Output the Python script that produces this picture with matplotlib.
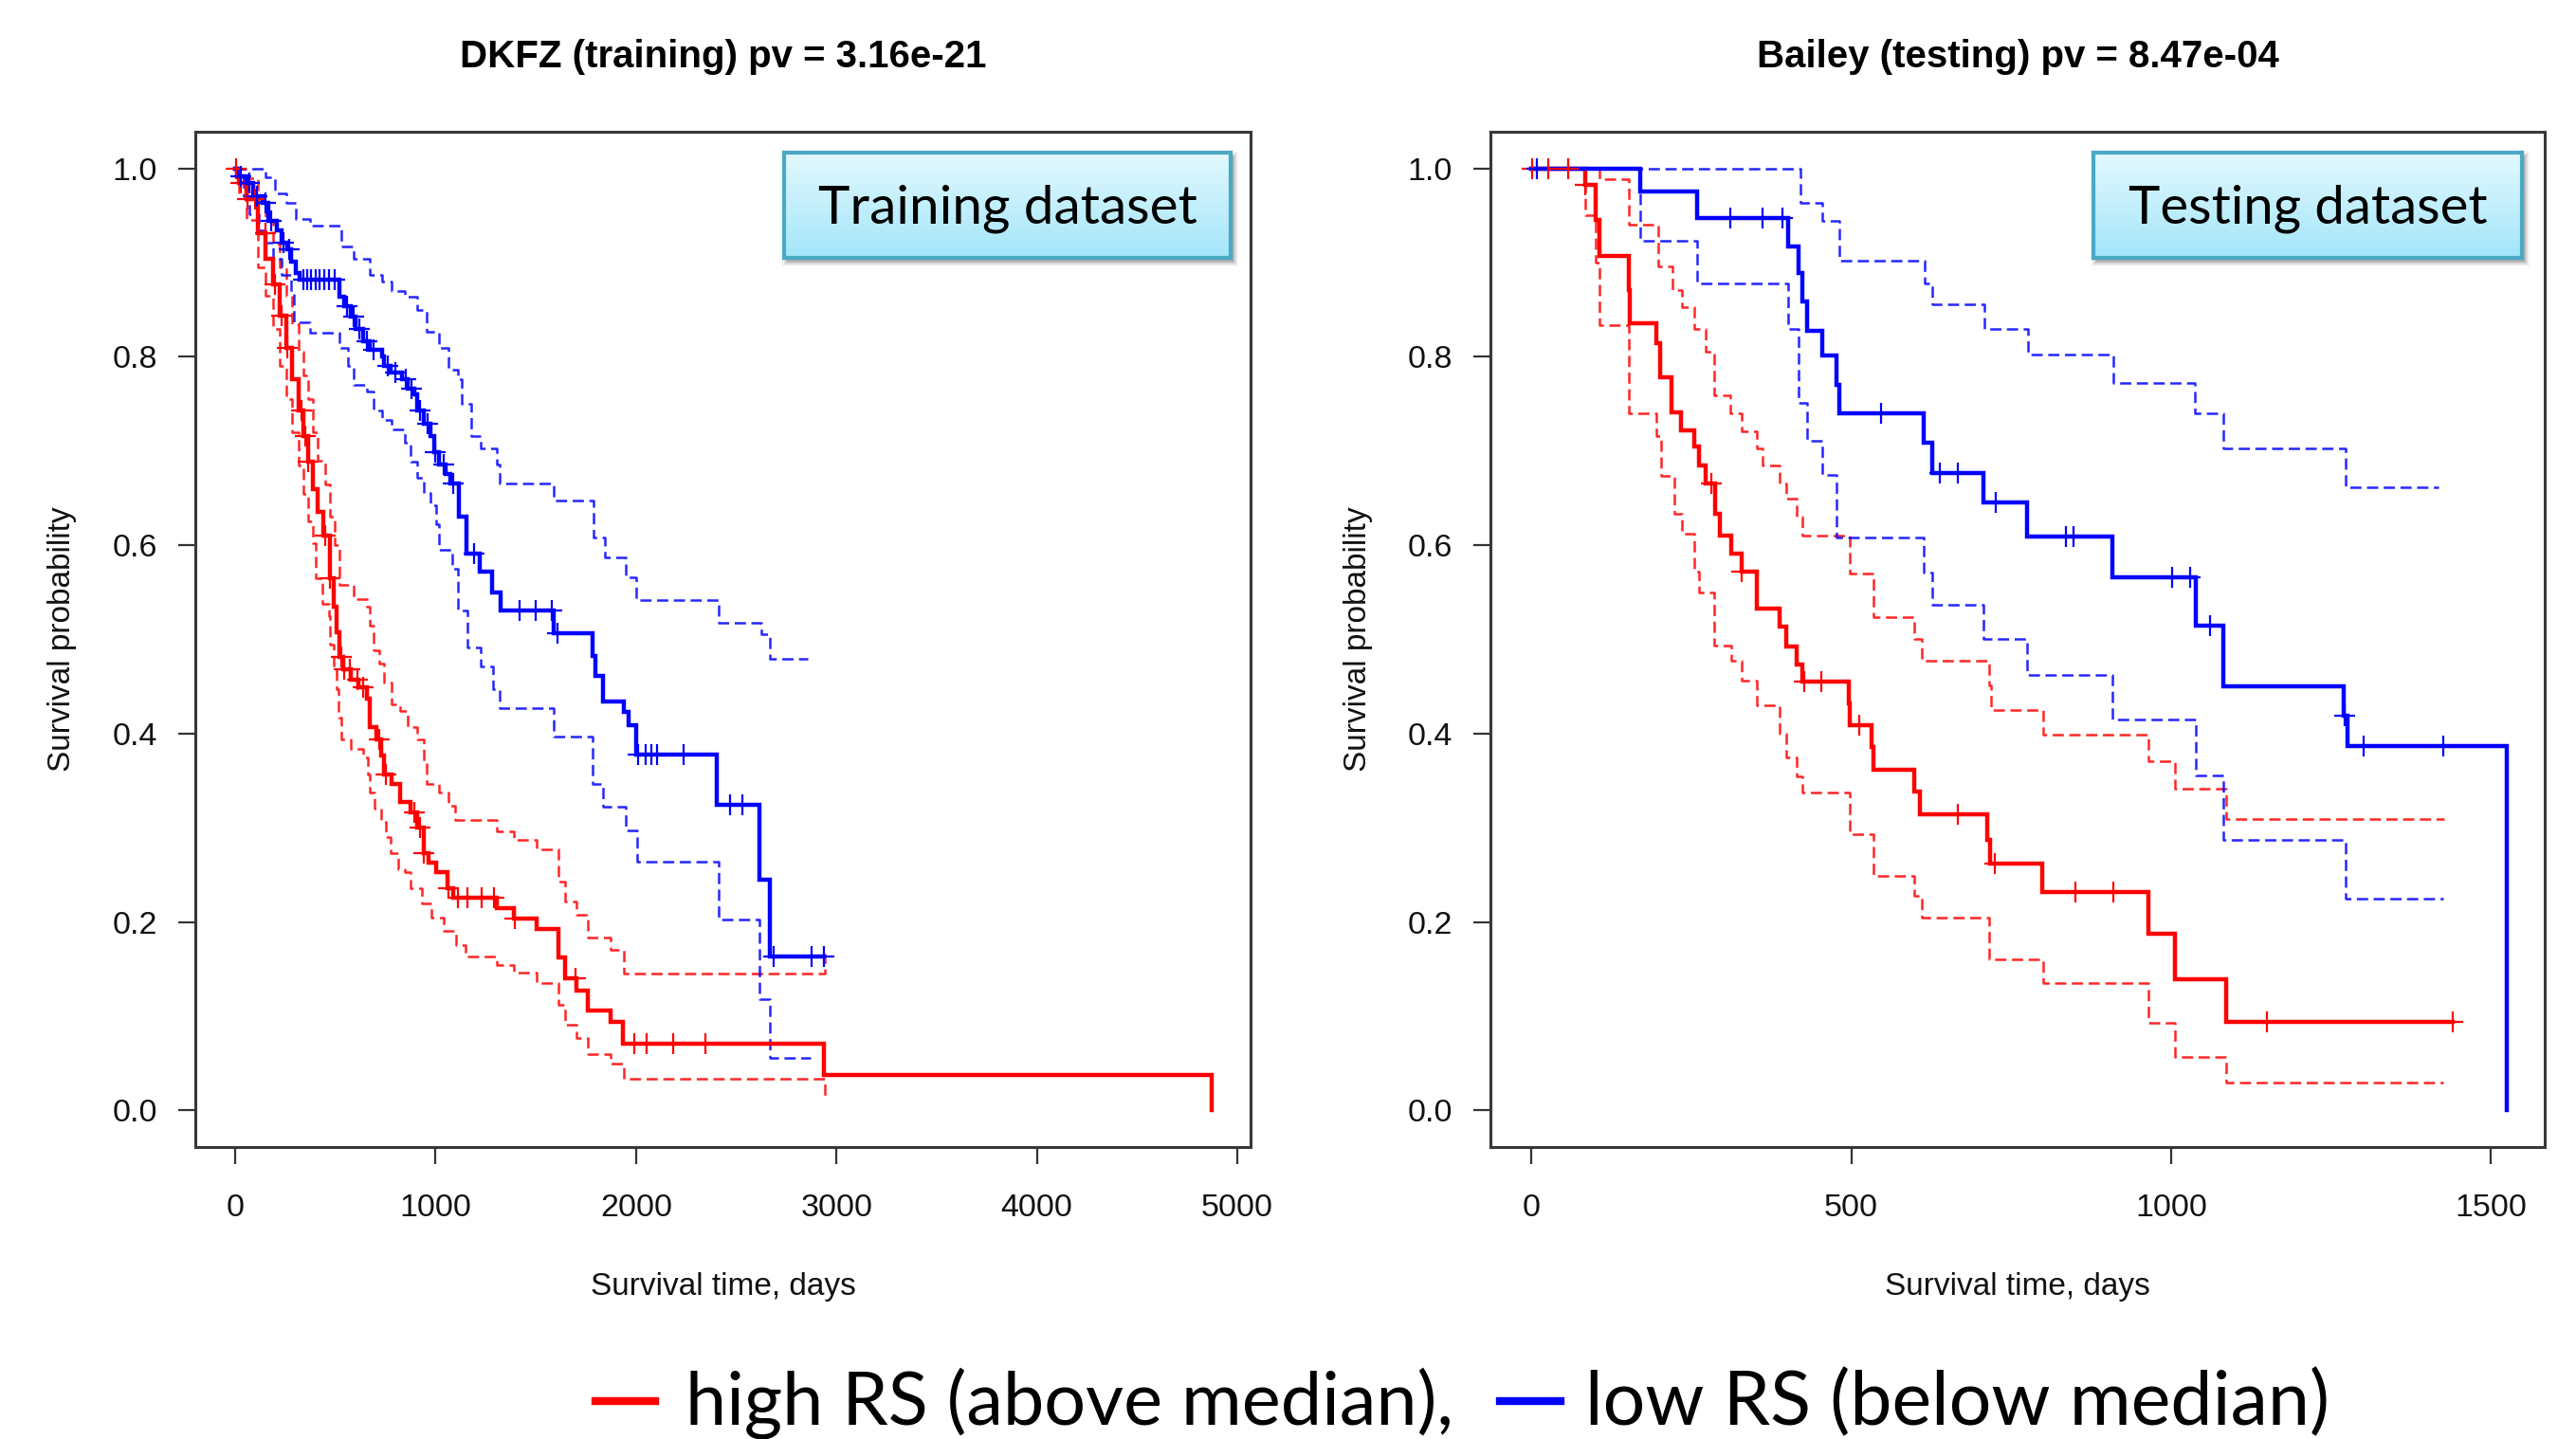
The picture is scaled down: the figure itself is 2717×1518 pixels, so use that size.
import matplotlib.pyplot as plt
import numpy as np
from matplotlib.lines import Line2D
from matplotlib.patches import Rectangle

plt.rcParams['font.family'] = ['Liberation Sans', 'DejaVu Sans']
plt.rcParams['lines.scale_dashes'] = False

# ---------------- DKFZ (training) ----------------
dk_title = "DKFZ (training) pv = 3.16e-21"
dk_xticks = [0, 1000, 2000, 3000, 4000, 5000]

dk_high_t = [0, 20, 57, 112, 152, 191, 222, 254, 285, 317, 341, 364, 388, 412, 440, 475, 491, 506, 522,
             538, 577, 617, 656, 672, 703, 727, 743, 782, 822, 877, 908, 940, 964, 1003, 1058, 1090,
             1307, 1392, 1505, 1615, 1648, 1705, 1761, 1871, 1936, 2935, 4871]
dk_high_s = [1.0, 0.985, 0.968, 0.931, 0.904, 0.877, 0.844, 0.810, 0.776, 0.743, 0.716, 0.689, 0.660,
             0.635, 0.610, 0.565, 0.535, 0.508, 0.481, 0.468, 0.457, 0.449, 0.437, 0.407, 0.394, 0.377,
             0.357, 0.347, 0.327, 0.316, 0.300, 0.273, 0.263, 0.253, 0.236, 0.226, 0.215, 0.204, 0.193,
             0.162, 0.140, 0.127, 0.106, 0.094, 0.071, 0.037, 0.0]
dk_high_end = 4871
dk_high_cens = [5, 30, 60, 100, 150, 200, 230, 260, 330, 349, 364, 451, 475, 530, 545, 570, 609, 640,
                719, 751, 893, 924, 940, 1066, 1113, 1161, 1230, 1290, 1397, 1700, 1992, 2051, 2187, 2346]

dk_high_up_t = [0, 57, 112, 152, 191, 222, 254, 285, 317, 341, 364, 388, 412, 451, 475, 498, 522, 593,
                656, 672, 688, 719, 743, 782, 822, 861, 908, 940, 956, 1019, 1066, 1098, 1307, 1392,
                1505, 1615, 1648, 1705, 1761, 1871, 1941, 2943]
dk_high_up_s = [1.0, 0.99, 0.965, 0.945, 0.92, 0.895, 0.865, 0.835, 0.805, 0.78, 0.755, 0.72, 0.69,
                0.665, 0.63, 0.60, 0.558, 0.543, 0.535, 0.515, 0.488, 0.474, 0.454, 0.431, 0.424, 0.407,
                0.394, 0.370, 0.347, 0.337, 0.323, 0.308, 0.296, 0.287, 0.277, 0.243, 0.222, 0.208,
                0.183, 0.170, 0.145, 0.166]
dk_high_up_end = 2943

dk_high_lo_t = [0, 20, 57, 112, 152, 191, 222, 254, 285, 317, 341, 364, 388, 404, 435, 467, 475, 491,
                506, 514, 530, 577, 640, 664, 672, 695, 727, 751, 774, 814, 846, 877, 930, 980, 1040,
                1100, 1150, 1307, 1392, 1505, 1615, 1648, 1705, 1761, 1871, 1941, 2943]
dk_high_lo_s = [1.0, 0.975, 0.945, 0.895, 0.865, 0.83, 0.79, 0.755, 0.72, 0.685, 0.655, 0.625, 0.602,
                0.565, 0.538, 0.525, 0.494, 0.468, 0.447, 0.417, 0.394, 0.384, 0.375, 0.357, 0.337,
                0.320, 0.306, 0.290, 0.273, 0.256, 0.253, 0.236, 0.220, 0.205, 0.19, 0.175, 0.163,
                0.154, 0.146, 0.135, 0.112, 0.091, 0.077, 0.060, 0.050, 0.033, 0.015]
dk_high_lo_end = 2943

dk_low_t = [0, 10, 57, 88, 136, 167, 207, 230, 262, 278, 301, 320, 522, 546, 577, 601, 640, 672, 735,
            743, 774, 830, 861, 893, 908, 940, 972, 995, 1019, 1050, 1074, 1114, 1156, 1220, 1283, 1325,
            1589, 1782, 1795, 1833, 1941, 1961, 2000, 2402, 2615, 2666]
dk_low_s = [1.0, 0.992, 0.985, 0.971, 0.964, 0.944, 0.934, 0.921, 0.914, 0.901, 0.889, 0.882, 0.864,
            0.854, 0.843, 0.830, 0.817, 0.807, 0.800, 0.790, 0.783, 0.776, 0.766, 0.760, 0.743, 0.729,
            0.716, 0.699, 0.686, 0.676, 0.666, 0.630, 0.591, 0.572, 0.550, 0.531, 0.507, 0.482, 0.461,
            0.434, 0.423, 0.409, 0.378, 0.324, 0.245, 0.163]
dk_low_end = 2935
dk_low_cens = [30, 70, 110, 150, 180, 240, 270, 340, 360, 380, 400, 420, 445, 470, 495, 560, 590, 620,
               655, 690, 760, 800, 850, 880, 920, 960, 1000, 1040, 1090, 1190, 1418, 1500, 1582, 1607,
               2012, 2046, 2077, 2107, 2238, 2469, 2530, 2687, 2876, 2935]

dk_low_up_t = [0, 151, 199, 254, 301, 372, 530, 593, 672, 735, 782, 845, 908, 956, 1019, 1066, 1113,
               1129, 1177, 1224, 1303, 1318, 1589, 1790, 1843, 1948, 2001, 2413, 2624, 2667]
dk_low_up_s = [1.0, 0.991, 0.974, 0.964, 0.946, 0.939, 0.917, 0.904, 0.887, 0.880, 0.870, 0.864, 0.850,
               0.827, 0.810, 0.786, 0.776, 0.750, 0.716, 0.703, 0.686, 0.666, 0.647, 0.608, 0.587, 0.566,
               0.542, 0.518, 0.506, 0.479]
dk_low_up_end = 2858

dk_low_lo_t = [0, 10, 41, 73, 120, 152, 191, 230, 278, 293, 372, 522, 561, 593, 656, 688, 735, 782, 845,
               877, 908, 940, 972, 1003, 1019, 1082, 1113, 1161, 1224, 1287, 1318, 1589, 1782, 1833, 1948,
               2007, 2410, 2615, 2666]
dk_low_lo_s = [1.0, 0.99, 0.971, 0.951, 0.934, 0.921, 0.904, 0.887, 0.867, 0.837, 0.826, 0.810, 0.790,
               0.770, 0.763, 0.743, 0.733, 0.723, 0.709, 0.689, 0.672, 0.656, 0.642, 0.622, 0.595, 0.575,
               0.531, 0.491, 0.471, 0.447, 0.427, 0.397, 0.347, 0.322, 0.297, 0.264, 0.203, 0.118, 0.056]
dk_low_lo_end = 2871

# ---------------- Bailey (testing) ----------------
ba_title = "Bailey (testing) pv = 8.47e-04"
ba_xticks = [0, 500, 1000, 1500]

ba_high_t = [0, 84, 100, 107, 152, 154, 196, 201, 219, 234, 254, 262, 272, 287, 294, 312, 329, 352, 388,
             398, 414, 424, 496, 498, 532, 534, 598, 608, 713, 717, 799, 965, 1006, 1086]
ba_high_s = [1.0, 0.983, 0.945, 0.907, 0.871, 0.836, 0.815, 0.778, 0.741, 0.722, 0.705, 0.685, 0.666,
             0.633, 0.610, 0.591, 0.572, 0.533, 0.514, 0.492, 0.473, 0.455, 0.432, 0.409, 0.386, 0.362,
             0.338, 0.314, 0.287, 0.262, 0.232, 0.187, 0.139, 0.094]
ba_high_end = 1440
ba_high_cens = [1, 26, 57, 84, 282, 329, 426, 453, 513, 666, 725, 850, 910, 1150, 1440]

ba_high_up_t = [0, 107, 153, 198, 221, 236, 254, 272, 286, 311, 329, 352, 362, 388, 398, 414, 424, 497,
                534, 598, 610, 716, 719, 800, 965, 1006, 1086]
ba_high_up_s = [1.0, 0.989, 0.940, 0.896, 0.871, 0.853, 0.830, 0.805, 0.759, 0.740, 0.721, 0.703, 0.685,
                0.666, 0.649, 0.630, 0.610, 0.570, 0.524, 0.500, 0.477, 0.451, 0.425, 0.399, 0.371,
                0.341, 0.309]
ba_high_up_end = 1427

ba_high_lo_t = [0, 84, 100, 107, 153, 196, 203, 223, 236, 254, 262, 286, 312, 329, 352, 388, 398, 414,
                424, 498, 534, 598, 611, 716, 800, 965, 1006, 1086]
ba_high_lo_s = [1.0, 0.95, 0.90, 0.834, 0.740, 0.716, 0.674, 0.633, 0.612, 0.572, 0.550, 0.493, 0.477,
                0.456, 0.43, 0.40, 0.375, 0.355, 0.337, 0.293, 0.249, 0.228, 0.205, 0.160, 0.135, 0.093,
                0.057, 0.029]
ba_high_lo_end = 1425

ba_low_t = [0, 170, 259, 401, 418, 424, 431, 454, 477, 481, 613, 626, 706, 775, 908, 1039, 1082, 1270,
            1275, 1525]
ba_low_s = [1.0, 0.976, 0.947, 0.917, 0.889, 0.859, 0.828, 0.801, 0.770, 0.740, 0.709, 0.677, 0.645,
            0.609, 0.566, 0.515, 0.450, 0.419, 0.387, 0.0]
ba_low_end = 1525
ba_low_cens = [8, 311, 362, 393, 546, 638, 666, 726, 835, 848, 1001, 1030, 1061, 1272, 1301, 1425]

ba_low_up_t = [0, 421, 454, 481, 615, 626, 708, 776, 909, 1037, 1082, 1273]
ba_low_up_s = [1.0, 0.964, 0.944, 0.902, 0.878, 0.856, 0.830, 0.802, 0.772, 0.740, 0.703, 0.662]
ba_low_up_end = 1418

ba_low_lo_t = [0, 170, 259, 401, 418, 431, 454, 477, 613, 626, 706, 775, 908, 1039, 1082, 1273]
ba_low_lo_s = [1.0, 0.923, 0.878, 0.830, 0.751, 0.711, 0.675, 0.608, 0.571, 0.537, 0.500, 0.462, 0.415,
               0.356, 0.287, 0.225]
ba_low_lo_end = 1425

box_labels = ["Training dataset", "Testing dataset"]
legend_high = "high RS (above median),"
legend_low = "low RS (below median)"

RED = '#ff0000'
BLUE = '#0000ff'


def step(ax, t, s, t_end, color, dashed=False):
    t = list(t)
    s = list(s)
    if t_end > t[-1]:
        t.append(t_end)
        s.append(s[-1])
    if dashed:
        ax.plot(t, s, drawstyle='steps-post', color=color, lw=1.8, dashes=(8.5, 4.2), alpha=0.85)
    else:
        ax.plot(t, s, drawstyle='steps-post', color=color, lw=3.2, solid_joinstyle='miter')


def censor(ax, t, s, cens, color):
    t = np.array(t)
    s = np.array(s)
    c = np.array(cens)
    y = s[np.searchsorted(t, c, side='right') - 1]
    ax.plot(c, y, ls='none', marker='+', ms=16, mew=1.6, color=color)


def style(ax, title, xticks, xlim):
    ax.set_xlim(*xlim)
    ax.set_ylim(-0.039, 1.039)
    ax.set_xticks(xticks)
    ax.set_yticks([0, 0.2, 0.4, 0.6, 0.8, 1.0])
    ax.set_yticklabels(['0.0', '0.2', '0.4', '0.6', '0.8', '1.0'])
    ax.tick_params(axis='both', direction='out', length=13, width=1.6, color='#333333',
                   labelsize=24.5, labelcolor='#111111')
    ax.tick_params(axis='x', pad=22)
    ax.tick_params(axis='y', pad=16)
    for sp in ax.spines.values():
        sp.set_linewidth(2.2)
        sp.set_color('#383838')
    ax.text(0.5, 1.074, title, transform=ax.transAxes, ha='center', va='center',
            fontsize=29, fontweight='bold')
    ax.text(-0.1258, 0.5, 'Survival probability', transform=ax.transAxes, rotation=90,
            ha='center', va='center', fontsize=24, color='#111111')
    ax.text(0.5, -0.138, 'Survival time, days', transform=ax.transAxes,
            ha='center', va='center', fontsize=24, color='#111111')


fig = plt.figure(figsize=(27.17, 15.18), dpi=100)
W, H = 2717, 1518

ax1 = fig.add_axes([206 / W, 1 - 1210 / H, 1113 / W, 1071 / H])
ax2 = fig.add_axes([1572 / W, 1 - 1210 / H, 1112 / W, 1071 / H])

# DKFZ panel
step(ax1, dk_high_up_t, dk_high_up_s, dk_high_up_end, RED, True)
step(ax1, dk_high_lo_t, dk_high_lo_s, dk_high_lo_end, RED, True)
step(ax1, dk_low_up_t, dk_low_up_s, dk_low_up_end, BLUE, True)
step(ax1, dk_low_lo_t, dk_low_lo_s, dk_low_lo_end, BLUE, True)
step(ax1, dk_high_t, dk_high_s, dk_high_end, RED)
step(ax1, dk_low_t, dk_low_s, dk_low_end, BLUE)
censor(ax1, dk_high_t, dk_high_s, dk_high_cens, RED)
censor(ax1, dk_low_t, dk_low_s, dk_low_cens, BLUE)
style(ax1, dk_title, dk_xticks, (-199, 5066))

# Bailey panel
step(ax2, ba_high_up_t, ba_high_up_s, ba_high_up_end, RED, True)
step(ax2, ba_high_lo_t, ba_high_lo_s, ba_high_lo_end, RED, True)
step(ax2, ba_low_up_t, ba_low_up_s, ba_low_up_end, BLUE, True)
step(ax2, ba_low_lo_t, ba_low_lo_s, ba_low_lo_end, BLUE, True)
step(ax2, ba_high_t, ba_high_s, ba_high_end, RED)
step(ax2, ba_low_t, ba_low_s, ba_low_end, BLUE)
censor(ax2, ba_high_t, ba_high_s, ba_high_cens, RED)
censor(ax2, ba_low_t, ba_low_s, ba_low_cens, BLUE)
style(ax2, ba_title, ba_xticks, (-64, 1584))

renderer = fig.canvas.get_renderer()


def fit(txt, width_px):
    bb = txt.get_window_extent(renderer)
    txt.set_fontsize(txt.get_fontsize() * width_px / bb.width)


# labelled boxes with a soft shadow and a cyan gradient
boxes = [(827, 161, 471, 111, 399), (2208, 161, 452, 111, 378)]
grad = np.linspace(0, 1, 100).reshape(-1, 1)
top = np.array([0.89, 0.975, 0.995])
bot = np.array([0.64, 0.90, 0.98])
img = top[None, None, :] * (1 - grad[:, :, None]) + bot[None, None, :] * grad[:, :, None]
for (bx, by, bw, bh, tw), label in zip(boxes, box_labels):
    for k, a in zip(range(6), [0.10, 0.08, 0.06, 0.05, 0.04, 0.03]):
        fig.patches.append(Rectangle(((bx + 3 - k) / W, 1 - (by + bh + 4 + k) / H),
                                     (bw + 2 * k) / W, (bh + 2 * k) / H, transform=fig.transFigure,
                                     facecolor='black', edgecolor='none', alpha=a, zorder=1))
    bax = fig.add_axes([bx / W, 1 - (by + bh) / H, bw / W, bh / H], zorder=3)
    bax.imshow(img, aspect='auto', extent=(0, 1, 0, 1))
    bax.set_xticks([])
    bax.set_yticks([])
    for sp in bax.spines.values():
        sp.set_color('#4aa9c5')
        sp.set_linewidth(3)
    t = bax.text(0.5, 0.47, label, transform=bax.transAxes, ha='center', va='center',
                 fontsize=40, family='Lato', color='black')
    fit(t, tw)

# legend line at the bottom
ly = 1 - 1478 / H
fig.add_artist(Line2D([628 / W, 691 / W], [ly, ly], color=RED, lw=6))
fig.add_artist(Line2D([1582 / W, 1646 / W], [ly, ly], color=BLUE, lw=6))
t1 = fig.text(723 / W, 1 - 1503 / H, legend_high, ha='left', va='baseline', fontsize=54, family='Lato')
fit(t1, 810)
t2 = fig.text(1672 / W, 1 - 1503 / H, legend_low, ha='left', va='baseline', fontsize=54, family='Lato')
fit(t2, 786)

fig.savefig('out.png', dpi=100)
